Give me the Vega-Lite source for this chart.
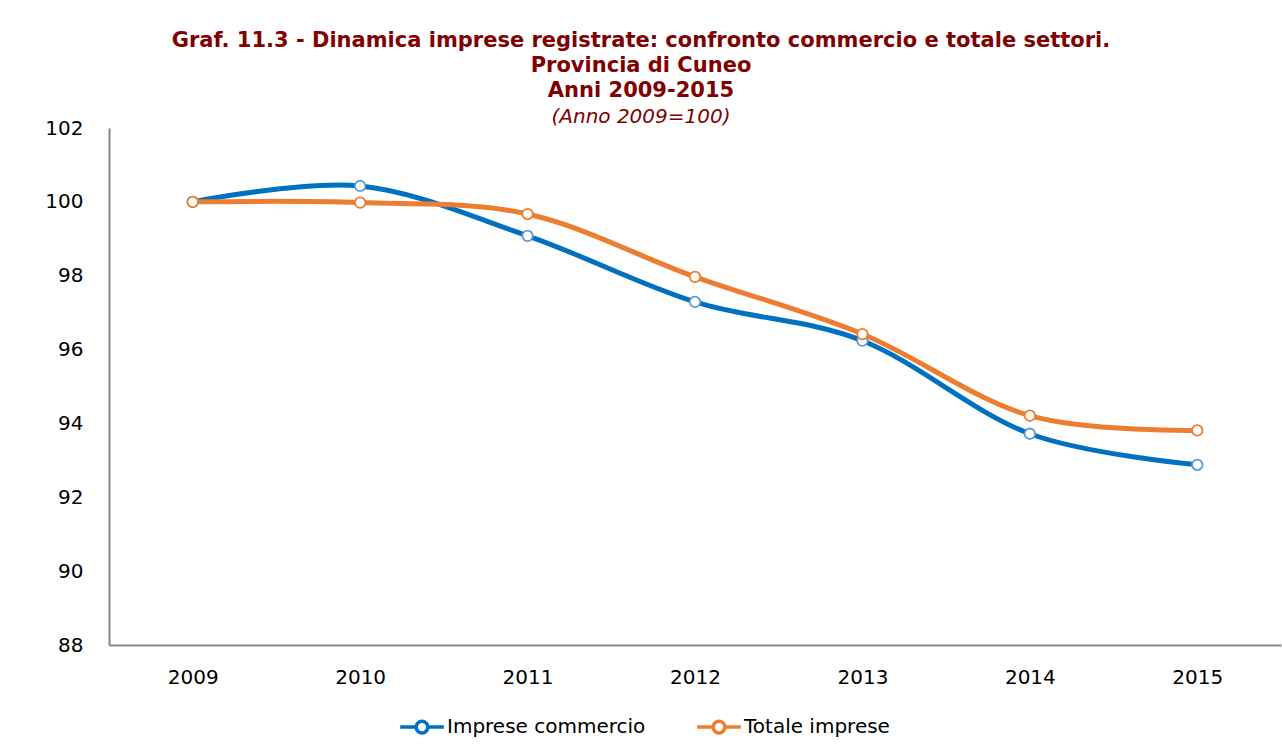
{
  "$schema": "https://vega.github.io/schema/vega-lite/v6.json",
  "width": 1172,
  "height": 517,
  "autosize": {"type": "none"},
  "padding": {"left": 109, "top": 128, "right": 1, "bottom": 108},
  "background": "white",
  "config": {
    "font": "DejaVu Sans",
    "view": {"stroke": null},
    "axis": {"grid": false, "ticks": false, "domainColor": "#868686", "domainWidth": 2, "labelColor": "#000000", "labelFontSize": 20, "labelFont": "DejaVu Sans"}
  },
  "title": {
    "text": ["Graf. 11.3 - Dinamica imprese registrate: confronto commercio e totale settori.", "Provincia di Cuneo", "Anni 2009-2015"],
    "subtitle": "(Anno 2009=100)",
    "font": "DejaVu Sans",
    "fontSize": 21,
    "fontWeight": "bold",
    "color": "#800000",
    "lineHeight": 25,
    "subtitleFont": "DejaVu Sans",
    "subtitleFontSize": 20,
    "subtitleFontStyle": "italic",
    "subtitleColor": "#800000",
    "subtitleLineHeight": 24,
    "subtitlePadding": 6,
    "anchor": "middle",
    "dx": -54,
    "offset": -9
  },
  "data": {
    "values": [
      {"anno": "2009", "serie": "Imprese commercio", "valore": 100.0},
      {"anno": "2010", "serie": "Imprese commercio", "valore": 100.43},
      {"anno": "2011", "serie": "Imprese commercio", "valore": 99.08},
      {"anno": "2012", "serie": "Imprese commercio", "valore": 97.29},
      {"anno": "2013", "serie": "Imprese commercio", "valore": 96.24},
      {"anno": "2014", "serie": "Imprese commercio", "valore": 93.72},
      {"anno": "2015", "serie": "Imprese commercio", "valore": 92.88},
      {"anno": "2009", "serie": "Totale imprese", "valore": 100.0},
      {"anno": "2010", "serie": "Totale imprese", "valore": 99.98},
      {"anno": "2011", "serie": "Totale imprese", "valore": 99.67},
      {"anno": "2012", "serie": "Totale imprese", "valore": 97.97},
      {"anno": "2013", "serie": "Totale imprese", "valore": 96.42},
      {"anno": "2014", "serie": "Totale imprese", "valore": 94.21},
      {"anno": "2015", "serie": "Totale imprese", "valore": 93.81}
    ]
  },
  "encoding": {
    "x": {"field": "anno", "type": "ordinal", "scale": {"type": "point", "padding": 0.5}, "axis": {"title": null, "labelAngle": 0, "labelPadding": 22}},
    "y": {"field": "valore", "type": "quantitative", "scale": {"domain": [88, 102], "nice": false, "zero": false}, "axis": {"title": null, "values": [88, 90, 92, 94, 96, 98, 100, 102], "labelPadding": 26}}
  },
  "layer": [
    {
      "mark": {"type": "line", "interpolate": "cardinal", "strokeWidth": 5},
      "encoding": {
        "color": {
          "field": "serie", "type": "nominal",
          "scale": {"domain": ["Imprese commercio", "Totale imprese"], "range": ["#0070C0", "#ED7D31"]},
          "legend": {
            "title": null, "orient": "none", "legendX": 289, "legendY": 575, "direction": "horizontal",
            "labelFontSize": 20, "labelFont": "DejaVu Sans", "labelColor": "#000000", "labelLimit": 400,
            "symbolType": "M-1,0H-0.27M0.27,0A0.27,0.27 0 1,1 -0.27,0A0.27,0.27 0 1,1 0.27,0M0.27,0H1",
            "symbolSize": 1900, "symbolStrokeWidth": 3.5, "symbolFillColor": "white",
            "labelOffset": 1, "columnPadding": 44,
            "encode": {"symbols": {"update": {"fill": {"value": "white"}}}}
          }
        }
      }
    },
    {
      "mark": {"type": "point", "shape": "circle", "filled": false, "fill": "white", "fillOpacity": 1, "size": 110, "strokeWidth": 1.8, "opacity": 1},
      "encoding": {
        "stroke": {
          "field": "serie", "type": "nominal",
          "scale": {"domain": ["Imprese commercio", "Totale imprese"], "range": ["#5B9BD5", "#ED7D31"]},
          "legend": null
        }
      }
    }
  ]
}
